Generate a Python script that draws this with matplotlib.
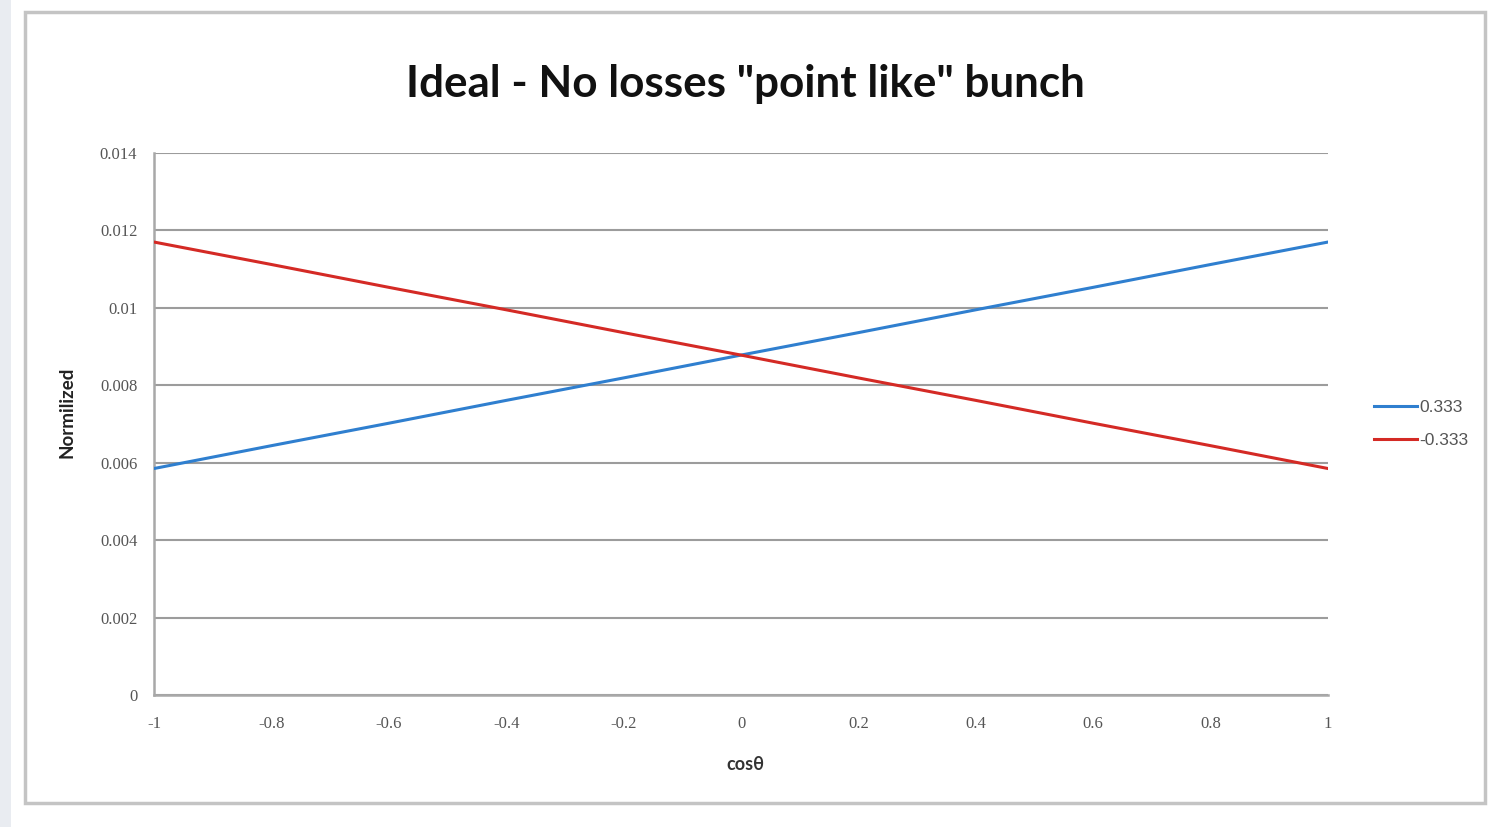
import matplotlib
matplotlib.use("Agg")
import matplotlib.pyplot as plt
from matplotlib.patches import Rectangle

# cos(theta) sample points and normalized distributions for the two asymmetry values
cos_theta = [-1.0, -0.8, -0.6, -0.4, -0.2, 0.0, 0.2, 0.4, 0.6, 0.8, 1.0]
norm_pos = [0.00585, 0.00644, 0.00702, 0.00761, 0.00819, 0.00878,
            0.00936, 0.00995, 0.01053, 0.01112, 0.01170]
norm_neg = [0.01170, 0.01112, 0.01053, 0.00995, 0.00936, 0.00878,
            0.00819, 0.00761, 0.00702, 0.00644, 0.00585]
series_labels = ["0.333", "-0.333"]
x_ticks = [-1, -0.8, -0.6, -0.4, -0.2, 0, 0.2, 0.4, 0.6, 0.8, 1]
x_tick_labels = ["-1", "-0.8", "-0.6", "-0.4", "-0.2", "0", "0.2", "0.4", "0.6", "0.8", "1"]
y_ticks = [0, 0.002, 0.004, 0.006, 0.008, 0.010, 0.012, 0.014]
y_tick_labels = ["0", "0.002", "0.004", "0.006", "0.008", "0.01", "0.012", "0.014"]

W, H = 1493, 827
fig = plt.figure(figsize=(W / 100, H / 100), dpi=100)
fig.patch.set_facecolor("white")

# light strip on the far left and the chart border
fig.add_artist(Rectangle((0, 0), 11 / W, 1, transform=fig.transFigure,
                         facecolor="#e9ecf1", edgecolor="none", zorder=0))
fig.add_artist(Rectangle((25 / W, 1 - 803 / H), (1485 - 25) / W, (803 - 12) / H,
                         transform=fig.transFigure, facecolor="white",
                         edgecolor="#c4c4c4", linewidth=2.5, zorder=1))

ax = fig.add_axes([154 / W, 1 - 695 / H, (1328 - 154) / W, (695 - 153) / H])
ax.set_zorder(2)
ax.set_facecolor("none")

ax.plot(cos_theta, norm_pos, color="#2f7fcf", linewidth=2.2, label=series_labels[0], zorder=3)
ax.plot(cos_theta, norm_neg, color="#d42a25", linewidth=2.2, label=series_labels[1], zorder=3)

ax.set_xlim(-1, 1)
ax.set_ylim(0, 0.014)
ax.set_xticks(x_ticks)
ax.set_xticklabels(x_tick_labels)
ax.set_yticks(y_ticks)
ax.set_yticklabels(y_tick_labels)

for lbl in ax.get_xticklabels() + ax.get_yticklabels():
    lbl.set_fontfamily(["Liberation Serif", "DejaVu Serif"])
    lbl.set_fontsize(12)
    lbl.set_color("#555555")
ax.tick_params(axis="both", length=0)
ax.tick_params(axis="x", pad=15)
ax.tick_params(axis="y", pad=12)

ax.grid(axis="y", color="#9c9c9c", linewidth=1.5, zorder=1)
for side in ["top", "right"]:
    ax.spines[side].set_visible(False)
for side in ["left", "bottom"]:
    ax.spines[side].set_color("#a8a8a8")
    ax.spines[side].set_linewidth(1.8)

fig.text(745 / W, 1 - 84 / H, 'Ideal - No losses "point like" bunch',
         ha="center", va="center", fontsize=31.7, fontweight="bold",
         family=["Lato", "DejaVu Sans"], color="#111111")
fig.text(745 / W, 1 - 765 / H, "cosθ", ha="center", va="center", fontsize=13,
         fontweight="bold", family=["Lato", "DejaVu Sans"], color="#333333")
fig.text(67 / W, 1 - 412 / H, "Normilized", ha="center", va="center", rotation=90,
         fontsize=13.5, fontweight="bold", family=["Lato", "DejaVu Sans"], color="#222222")

leg = ax.legend(loc="center left", bbox_to_anchor=((1358 - 154) / (1328 - 154), (695 - 424) / (695 - 153)),
                frameon=False, handlelength=2.5, handletextpad=0.15, labelspacing=1.0,
                prop={"family": ["Liberation Sans", "DejaVu Sans"], "size": 12.5})
for t in leg.get_texts():
    t.set_color("#555555")

fig.savefig("out.png", dpi=100)
